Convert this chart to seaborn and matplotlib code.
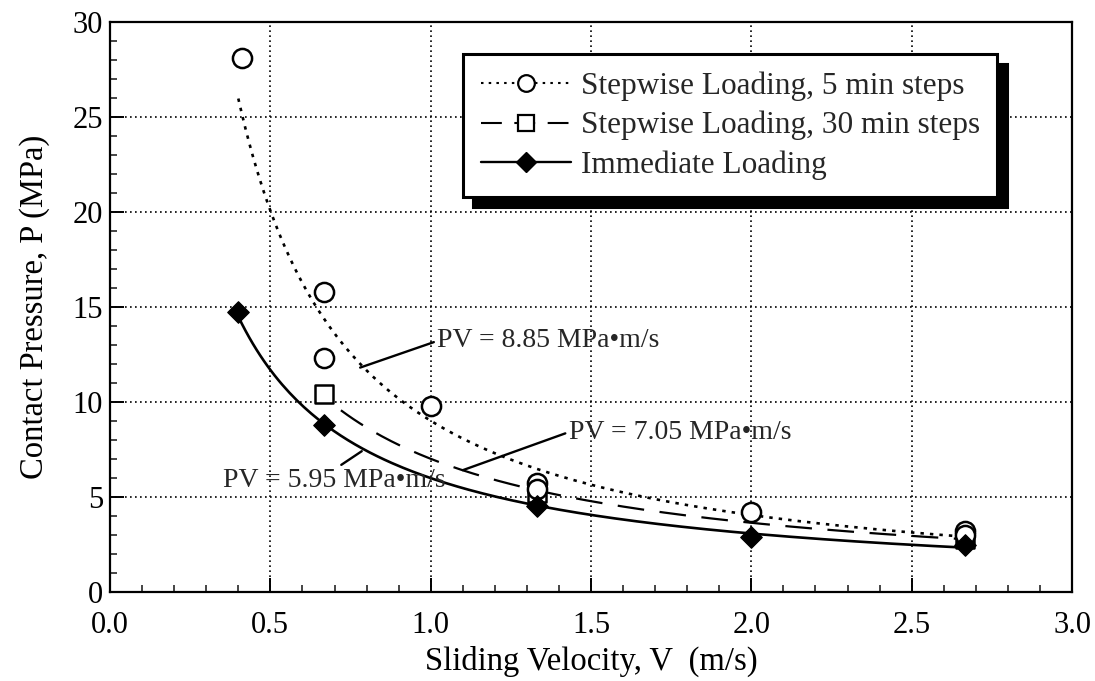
import numpy as np
import pandas as pd
import matplotlib
matplotlib.use("Agg")
import matplotlib.pyplot as plt
import seaborn as sns
from matplotlib.lines import Line2D
from matplotlib.ticker import MultipleLocator

# ---- data ----
v_5min = [0.41, 0.667, 0.667, 1.0, 1.333, 1.333, 2.0, 2.667, 2.667]
p_5min = [28.1, 15.8, 12.3, 9.8, 5.7, 5.4, 4.2, 3.2, 3.0]

v_30min = [0.667, 1.333, 2.667]
p_30min = [10.4, 5.2, 2.8]

v_immed = [0.4, 0.667, 1.333, 2.0, 2.667]
p_immed = [14.7, 8.8, 4.5, 2.9, 2.45]

legend_labels = ["Stepwise Loading, 5 min steps",
                 "Stepwise Loading, 30 min steps",
                 "Immediate Loading"]
pv_labels = ["PV = 8.85 MPa\u2022m/s", "PV = 7.05 MPa\u2022m/s", "PV = 5.95 MPa\u2022m/s"]

sns.set_theme(style="white")
plt.rcParams['font.family'] = ['Liberation Serif', 'DejaVu Serif']

fig = plt.figure(figsize=(10.95, 6.81), dpi=100)
ax = fig.add_axes([0.1005, 0.131, 0.8785, 0.837])


def power_fit(v, p, v0, v1):
    b, a = np.polyfit(np.log(v), np.log(p), 1)
    xs = np.linspace(v0, v1, 200)
    return pd.DataFrame({"V": xs, "P": np.exp(a) * xs ** b})


fit5 = power_fit(v_5min, p_5min, 0.40, 2.667)
fit30 = power_fit(v_30min, p_30min, 0.72, 2.667)
fitI = power_fit(v_immed, p_immed, 0.40, 2.667)

sns.lineplot(data=fit5, x="V", y="P", ax=ax, color="black", lw=1.9,
             linestyle=(0, (1.3, 2.3)), sort=False)
sns.lineplot(data=fit30, x="V", y="P", ax=ax, color="black", lw=1.6,
             linestyle=(0, (12, 7)), sort=False)
sns.lineplot(data=fitI, x="V", y="P", ax=ax, color="black", lw=1.9, sort=False)

sns.scatterplot(x=v_5min, y=p_5min, ax=ax, marker="o", s=190,
                facecolor="white", edgecolor="black", linewidth=1.8, zorder=5)
sns.scatterplot(x=v_30min, y=p_30min, ax=ax, marker="s", s=170,
                facecolor="white", edgecolor="black", linewidth=1.8, zorder=4)
sns.scatterplot(x=v_immed, y=p_immed, ax=ax, marker="D", s=120,
                color="black", edgecolor="black", zorder=6)

ax.set_xlim(0, 3.0)
ax.set_ylim(0, 30)
ax.xaxis.set_major_locator(MultipleLocator(0.5))
ax.xaxis.set_minor_locator(MultipleLocator(0.1))
ax.yaxis.set_major_locator(MultipleLocator(5))
ax.yaxis.set_minor_locator(MultipleLocator(1))
ax.set_xticks(np.arange(0, 3.01, 0.5))
ax.set_xticklabels([f"{t:.1f}" for t in np.arange(0, 3.01, 0.5)])
ax.tick_params(axis="both", which="major", direction="in", length=10, width=1.4,
               labelsize=22, colors="black")
ax.tick_params(axis="x", which="major", pad=14)
ax.tick_params(axis="y", which="major", pad=5)
ax.tick_params(axis="both", which="minor", direction="in", length=5, width=1.2)
ax.tick_params(axis="x", which="both", bottom=True)
ax.tick_params(axis="y", which="both", left=True)
ax.grid(True, which="major", color="black", linestyle=(0, (1, 2)), linewidth=1.2)
for s in ax.spines.values():
    s.set_color("black")
    s.set_linewidth(1.6)

ax.set_xlabel("Sliding Velocity, V  (m/s)", fontsize=23.5, color="black", labelpad=4)
ax.set_ylabel("Contact Pressure, P (MPa)", fontsize=23.5, color="black", labelpad=16)

# annotations
arrow = dict(arrowstyle="-", color="black", lw=1.7, shrinkA=0, shrinkB=0)
ax.annotate(pv_labels[0], xy=(0.78, 11.8), xytext=(1.02, 13.2), fontsize=20,
            va="center", ha="left", arrowprops=dict(arrow, relpos=(0, 0.5)))
ax.annotate(pv_labels[1], xy=(1.10, 6.4), xytext=(1.43, 8.4), fontsize=20,
            va="center", ha="left", arrowprops=dict(arrow, relpos=(0, 0.5)))
ax.annotate(pv_labels[2], xy=(0.785, 7.4), xytext=(0.70, 5.85), fontsize=20,
            va="center", ha="center", arrowprops=dict(arrow, relpos=(0.5, 0.95)))

handles = [
    Line2D([], [], color="black", linestyle=(0, (1.2, 2.5)), lw=1.5, marker="o",
           markersize=12, markerfacecolor="white", markeredgecolor="black", markeredgewidth=1.6),
    Line2D([], [], color="black", linestyle=(0, (10, 6)), lw=1.5, marker="s",
           markersize=12, markerfacecolor="white", markeredgecolor="black", markeredgewidth=1.6),
    Line2D([], [], color="black", linestyle="-", lw=1.7, marker="D",
           markersize=10, markerfacecolor="black", markeredgecolor="black"),
]
leg = ax.legend(handles, legend_labels, loc="upper right", bbox_to_anchor=(0.922, 0.943),
                fontsize=22.5, frameon=True, fancybox=False, framealpha=1,
                edgecolor="black", handlelength=2.9, handletextpad=0.3,
                borderpad=0.55, labelspacing=0.32, borderaxespad=0,
                shadow={"color": "black", "alpha": 1, "ox": 7, "oy": -7})
leg.get_frame().set_linewidth(2.2)
leg.set_zorder(10)

fig.savefig("out.png", dpi=100, facecolor="white")
